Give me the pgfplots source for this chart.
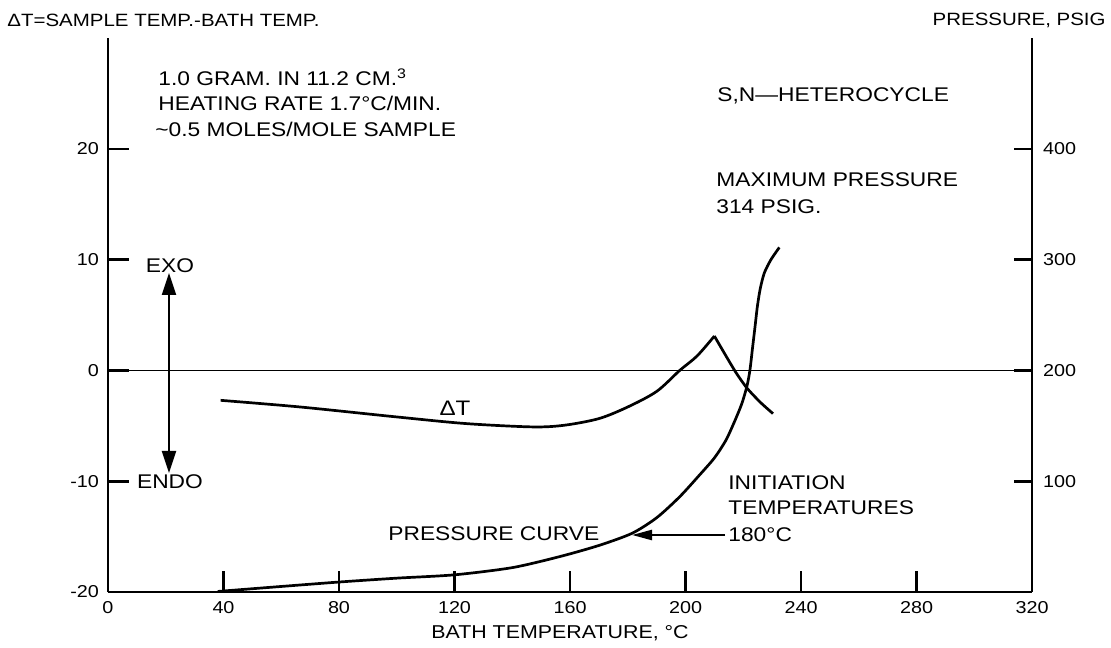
\documentclass[border=0pt]{standalone}
\usepackage{fontspec}
\setmainfont[FakeStretch=1.15]{Liberation Sans}
\usepackage{pgfplots}
\pgfplotsset{compat=1.18}
\usetikzlibrary{arrows.meta}
\newcommand\fs[1]{\fontsize{#1}{#1}\selectfont}
\begin{document}
\begin{tikzpicture}[x=0.5pt,y=0.5pt]
\begin{axis}[
  at={(54pt,27.5pt)}, anchor=south west,
  width=462pt, height=277pt, scale only axis,
  xmin=0, xmax=320, ymin=-20, ymax=30,
  axis x line=bottom, axis y line=left,
  axis line style={line width=1.4pt, -},
  xtick={0,40,...,320}, ytick={-20,-10,0,10,20},
  tick align=inside, major tick length=10.5pt,
  tick style={line width=1.3pt, black},
  minor tick num=0,
  /pgf/number format/assume math mode=true,
  ticklabel style={font=\fs{8.6}},
  xticklabel style={yshift=-1pt},
  yticklabel style={xshift=-1pt},
  clip=false,
]
\addplot[line width=0.85pt, black] coordinates {(0,0) (320,0)};
% Delta T curve
\addplot[line width=1.35pt, black, smooth, tension=0.5] coordinates {
(39,-2.7) (66.5,-3.3) (100,-4.2) (124,-4.8) (147,-5.1) (158,-4.95)
(170,-4.35) (180,-3.3) (190,-1.9) (198,0) (204,1.3) (210,3.1)};
\addplot[line width=1.35pt, black, smooth, tension=0.4] coordinates {
(210,3.1) (217,0) (221.3,-1.6) (226,-2.9) (230.3,-3.9)};
\end{axis}
\begin{axis}[
  at={(54pt,27.5pt)}, anchor=south west,
  width=462pt, height=277pt, scale only axis,
  xmin=0, xmax=320, ymin=0, ymax=500,
  axis y line=right, axis x line=none,
  axis line style={line width=1.4pt, -},
  xtick=\empty, ytick={100,200,300,400},
  tick align=inside, major tick length=9pt,
  tick style={line width=1.3pt, black},
  /pgf/number format/assume math mode=true,
  ticklabel style={font=\fs{8.6}},
  yticklabel style={xshift=2pt},
  clip=false,
]
% pressure curve, psig
\addplot[line width=1.35pt, black, smooth, tension=0.45] coordinates {
(38,0.5) (60,5) (80,9) (100,12.5) (120,15.5) (140,22) (156.5,32) (170,42)
(181.5,53) (190,67) (198,86) (205,106) (210,121) (214,137) (217,154)
(219.5,170) (221.3,186) (222.3,200) (223.2,220) (224.1,240) (224.9,258)
(225.9,274) (227.3,288) (229.6,300) (232.5,311)};
\end{axis}
% titles
\node[anchor=west, inner sep=0, font=\fs{8.9}] at (7,627) {ΔT=SAMPLE TEMP.-BATH TEMP.};
\node[anchor=east, inner sep=0, font=\fs{8.9}] at (1106,627) {PRESSURE, PSIG};
\node[inner sep=0, font=\fs{9.3}] at (560,14) {BATH TEMPERATURE, °C};
% notes
\node[anchor=west, inner sep=0, font=\fs{9.9}] at (158,570) {1.0 GRAM. IN 11.2 CM.\textsuperscript{3}};
\node[anchor=west, inner sep=0, font=\fs{9.9}] at (158,544) {HEATING RATE 1.7°C/MIN.};
\node[anchor=west, inner sep=0, font=\fs{9.9}] at (155,518) {\textasciitilde 0.5 MOLES/MOLE SAMPLE};
\node[anchor=west, inner sep=0, font=\fs{9.9}] at (717,551) {S,N—HETEROCYCLE};
\node[anchor=west, inner sep=0, font=\fs{9.9}] at (716,467) {MAXIMUM PRESSURE};
\node[anchor=west, inner sep=0, font=\fs{9.9}] at (716,440) {314 PSIG.};
\node[inner sep=0, font=\fs{9.9}] at (170,381) {EXO};
\node[inner sep=0, font=\fs{9.9}] at (170,165) {ENDO};
\draw[line width=1pt, {Triangle[length=11pt,width=7pt]}-{Triangle[length=11pt,width=7pt]}] (169,374) -- (169,174);
\node[inner sep=0, font=\fs{10.5}] at (455,239) {ΔT};
\node[anchor=west, inner sep=0, font=\fs{9.9}] at (388,113) {PRESSURE CURVE};
\node[anchor=west, inner sep=0, font=\fs{9.9}] at (728,164) {INITIATION};
\node[anchor=west, inner sep=0, font=\fs{9.9}] at (728,139) {TEMPERATURES};
\node[anchor=west, inner sep=0, font=\fs{9.9}] at (728,112) {180°C};
\draw[line width=1.2pt, -{Triangle[length=10pt,width=5pt]}] (725,112) -- (632,112);
\pgfresetboundingbox
\path (0,0) rectangle (1111,647);
\end{tikzpicture}
\end{document}
